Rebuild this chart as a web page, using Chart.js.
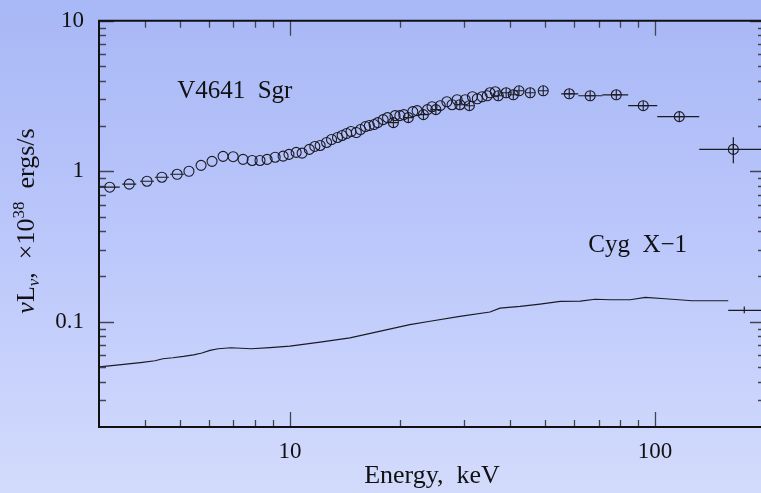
<!DOCTYPE html>
<html>
<head>
<meta charset="utf-8">
<script src="https://cdn.jsdelivr.net/npm/chart.js@4.4.1/dist/chart.umd.min.js"></script>
<style>
  html, body {
    margin: 0;
    padding: 0;
    overflow: hidden;
    background: linear-gradient(to bottom, #a8b7f6 0%, #bcc8fb 50%, #d3dbfc 100%);
  }
  #wrap { width: 770px; height: 493px; position: relative; }
</style>
</head>
<body>
<div id="wrap"><canvas id="spec"></canvas></div>
<script>
// V4641 Sgr spectrum (keV, 1e38 erg/s)
const sgrEnergy = [3.21, 3.63, 4.06, 4.46, 4.91, 5.29, 5.71, 6.12, 6.56, 6.99,
  7.44, 7.88, 8.28, 8.66, 9.11, 9.58, 9.94, 10.4, 10.8, 11.3,
  11.7, 12.1, 12.6, 13.0, 13.5, 13.9, 14.3, 14.7, 15.2, 15.6,
  16.1, 16.5, 17.0, 17.4, 18.0, 18.5, 19.2, 19.4, 20.0, 20.5,
  21.1, 21.7, 22.3, 23.2, 23.8, 24.5, 25.1, 25.8, 26.9, 27.8,
  28.7, 29.2, 30.2, 31.0, 31.6, 32.6, 33.6, 34.7, 35.3, 36.5,
  37.2, 39.1, 40.9, 42.4, 45.5, 49.4, 58.2, 66.4, 78.3, 92.8, 116.5, 163.8];
const sgrLum = [0.784, 0.821, 0.859, 0.913, 0.955, 1.0, 1.095, 1.164, 1.256, 1.25,
  1.20, 1.18, 1.18, 1.20, 1.24, 1.26, 1.295, 1.335, 1.32, 1.397,
  1.462, 1.484, 1.554, 1.626, 1.677, 1.729, 1.782, 1.837, 1.81, 1.893,
  1.982, 2.012, 2.043, 2.106, 2.204, 2.272, 2.106, 2.342, 2.342, 2.378,
  2.272, 2.489, 2.527, 2.378, 2.566, 2.685, 2.566, 2.727, 2.897, 2.768,
  2.987, 2.768, 2.987, 2.727, 3.126, 3.032, 3.126, 3.174, 3.322, 3.373,
  3.174, 3.322, 3.222, 3.424, 3.322, 3.424, 3.272, 3.174, 3.222, 2.727, 2.307, 1.397];
// points whose error bars show as a cross inside the circle
const sgrCrossIdx = [36, 40, 43, 46, 51, 53, 60, 61, 62, 63, 64, 65, 66, 67, 68, 69, 70, 71];
// low-energy points with short horizontal bars
const sgrDashIdx = [1, 2, 3, 4];
// wide energy bins
const sgrBinIdx = [0, 66, 67, 68, 69, 70, 71];
const sgrBinLo = [3.0, 55.3, 61.6, 71.7, 84.4, 101.4, 132.1];
const sgrBinHi = [3.42, 61.6, 71.7, 84.4, 101.4, 132.1, 200];
const sgrBinLumLo = [null, null, null, null, null, null, 1.13];
const sgrBinLumHi = [null, null, null, null, null, null, 1.68];

// Cyg X-1 spectrum
const cygEnergy = [3.0, 3.25, 3.56, 3.95, 4.27, 4.49, 4.78, 5.11, 5.45, 5.74,
  6.04, 6.36, 6.90, 7.83, 8.82, 10.0, 12.1, 14.6, 17.7, 21.3,
  24.2, 29.2, 35.3, 37.6, 42.7, 48.4, 55.0, 62.4, 68.5, 75.4,
  85.5, 94.0, 106.6, 126.4, 141.6, 158.6];
const cygLum = [0.0501, 0.0511, 0.0524, 0.0538, 0.0551, 0.0568, 0.0577, 0.0589, 0.0603, 0.0620,
  0.0646, 0.0662, 0.0672, 0.0662, 0.0674, 0.0689, 0.0732, 0.0782, 0.0866, 0.0958,
  0.1008, 0.1087, 0.1161, 0.1233, 0.1265, 0.1311, 0.1366, 0.137, 0.1412, 0.1401,
  0.1401, 0.1451, 0.1423, 0.138, 0.138, 0.138];
// last Cyg X-1 bin: [energy, lo, hi, lum, lumLo, lumHi]
const cygLastBin = [175.5, 158.6, 200, 0.1191, 0.1139, 0.1262];

// axes
const xMajorTicks = [10, 100];
const xMinorTicks = [4, 5, 6, 7, 8, 9, 20, 30, 40, 50, 60, 70, 80, 90];
const yMajorTicks = [0.1, 1, 10];
const yMinorTicks = [0.03, 0.04, 0.05, 0.06, 0.07, 0.08, 0.09,
  0.2, 0.3, 0.4, 0.5, 0.6, 0.7, 0.8, 0.9, 2, 3, 4, 5, 6, 7, 8, 9];

// source names
const labelText = ['V4641  Sgr', 'Cyg  X\u22121'];
const labelEnergy = [4.91, 65.6];
const labelLum = [3.08, 0.292];

const SERIF = "'Liberation Serif', 'Times New Roman', serif";
const INK = '#1b1b24';

const pts = (xs, ys) => xs.map((e, i) => ({ x: e, y: ys[i] }));
const pick = idx => idx.map(i => ({ x: sgrEnergy[i], y: sgrLum[i] }));

// frame with inward ticks on all four sides
const frameTicks = {
  id: 'frameTicks',
  afterDatasetsDraw(chart) {
    const { ctx, chartArea: a, scales: { x, y } } = chart;
    ctx.save();
    ctx.strokeStyle = '#444450';
    ctx.lineWidth = 1.3;
    ctx.beginPath();
    const xt = (list, len) => list.forEach(v => {
      const px = Math.round(x.getPixelForValue(v)) + 0.5;
      ctx.moveTo(px, a.bottom); ctx.lineTo(px, a.bottom - len);
      ctx.moveTo(px, a.top); ctx.lineTo(px, a.top + len);
    });
    const yt = (list, len) => list.forEach(v => {
      const py = Math.round(y.getPixelForValue(v)) + 0.5;
      ctx.moveTo(a.left, py); ctx.lineTo(a.left + len, py);
      ctx.moveTo(a.right, py); ctx.lineTo(a.right - len, py);
    });
    xt(xMinorTicks, 7); xt(xMajorTicks, 15);
    yt(yMinorTicks, 7); yt(yMajorTicks, 15);
    ctx.stroke();
    ctx.strokeStyle = '#111';
    ctx.lineWidth = 2;
    ctx.strokeRect(a.left, a.top, a.right - a.left, a.bottom - a.top);
    ctx.restore();
  }
};

// horizontal bin widths and vertical errors
const errorBars = {
  id: 'errorBars',
  afterDatasetsDraw(chart) {
    const { ctx, scales: { x, y } } = chart;
    ctx.save();
    ctx.strokeStyle = INK;
    ctx.lineWidth = 1.2;
    ctx.beginPath();
    sgrBinIdx.forEach((idx, k) => {
      const py = y.getPixelForValue(sgrLum[idx]);
      ctx.moveTo(x.getPixelForValue(sgrBinLo[k]), py);
      ctx.lineTo(x.getPixelForValue(sgrBinHi[k]), py);
      if (sgrBinLumLo[k] !== null) {
        const px = x.getPixelForValue(sgrEnergy[idx]);
        ctx.moveTo(px, y.getPixelForValue(sgrBinLumLo[k]));
        ctx.lineTo(px, y.getPixelForValue(sgrBinLumHi[k]));
      }
    });
    const [e, lo, hi, l, llo, lhi] = cygLastBin;
    const cy = y.getPixelForValue(l);
    ctx.moveTo(x.getPixelForValue(lo), cy);
    ctx.lineTo(x.getPixelForValue(hi), cy);
    const cx = x.getPixelForValue(e);
    ctx.moveTo(cx, y.getPixelForValue(llo));
    ctx.lineTo(cx, y.getPixelForValue(lhi));
    ctx.stroke();
    ctx.restore();
  }
};

// source names and the rotated y title with sub/superscripts
const texts = {
  id: 'texts',
  afterDraw(chart) {
    const { ctx, scales: { x, y } } = chart;
    ctx.save();
    ctx.fillStyle = '#111';
    ctx.font = `25px ${SERIF}`;
    ctx.textBaseline = 'alphabetic';
    labelText.forEach((t, i) => {
      ctx.fillText(t, x.getPixelForValue(labelEnergy[i]), y.getPixelForValue(labelLum[i]));
    });

    const big = `26px ${SERIF}`;
    const small = `17px ${SERIF}`;
    const parts = [
      { t: '\u03bd', f: `italic 26px ${SERIF}`, dy: 0 },
      { t: 'L', f: big, dy: 0 },
      { t: '\u03bd', f: `italic 17px ${SERIF}`, dy: 5 },
      { t: ',  \u00d710', f: big, dy: 0 },
      { t: '38', f: small, dy: -10 },
      { t: '  ergs/s', f: big, dy: 0 }
    ];
    let total = 0;
    parts.forEach(p => { ctx.font = p.f; p.w = ctx.measureText(p.t).width; total += p.w; });
    ctx.translate(34, 221);
    ctx.rotate(-Math.PI / 2);
    let cx = -total / 2;
    parts.forEach(p => {
      ctx.font = p.f;
      ctx.fillText(p.t, cx, p.dy);
      cx += p.w;
    });
    ctx.restore();
  }
};

new Chart(document.getElementById('spec'), {
  type: 'scatter',
  data: {
    datasets: [
      {
        type: 'line',
        label: 'Cyg X-1',
        data: pts(cygEnergy, cygLum),
        borderColor: INK,
        borderWidth: 1.2,
        tension: 0,
        pointRadius: 0,
        fill: false
      },
      {
        label: 'V4641 Sgr',
        data: pts(sgrEnergy, sgrLum),
        pointStyle: 'circle',
        pointRadius: 5,
        borderColor: INK,
        borderWidth: 1.1,
        backgroundColor: 'rgba(0,0,0,0)'
      },
      {
        label: 'V4641 Sgr errors',
        data: pick(sgrCrossIdx),
        pointStyle: 'cross',
        pointRadius: 5,
        borderColor: INK,
        borderWidth: 1.1
      },
      {
        label: 'V4641 Sgr bins',
        data: pick(sgrDashIdx),
        pointStyle: 'line',
        pointRadius: 7,
        borderColor: INK,
        borderWidth: 1.1
      }
    ]
  },
  options: {
    responsive: true,
    maintainAspectRatio: false,
    animation: false,
    events: [],
    layout: { autoPadding: false, padding: { top: 17.5, right: 5, left: 0, bottom: 0 } },
    plugins: {
      legend: { display: false },
      tooltip: { enabled: false }
    },
    scales: {
      x: {
        type: 'logarithmic',
        min: 3,
        max: 200,
        grid: { display: false, drawTicks: false },
        border: { display: false },
        afterBuildTicks: s => { s.ticks = xMajorTicks.map(v => ({ value: v })); },
        afterFit: s => { s.height = 66; },
        ticks: {
          padding: 11,
          maxRotation: 0,
          color: '#111',
          font: { family: SERIF, size: 23 },
          callback: v => String(v)
        },
        title: {
          display: true,
          text: 'Energy,  keV',
          color: '#111',
          font: { family: SERIF, size: 26 },
          padding: { top: 0, bottom: 1 }
        }
      },
      y: {
        type: 'logarithmic',
        min: 0.02,
        max: 10,
        grid: { display: false, drawTicks: false },
        border: { display: false },
        afterBuildTicks: s => { s.ticks = yMajorTicks.map(v => ({ value: v })); },
        afterFit: s => { s.width = 99; },
        ticks: {
          padding: 15,
          color: '#111',
          font: { family: SERIF, size: 23, lineHeight: 0.5 },
          callback: v => String(v)
        }
      }
    }
  },
  plugins: [frameTicks, errorBars, texts]
});
</script>
</body>
</html>
